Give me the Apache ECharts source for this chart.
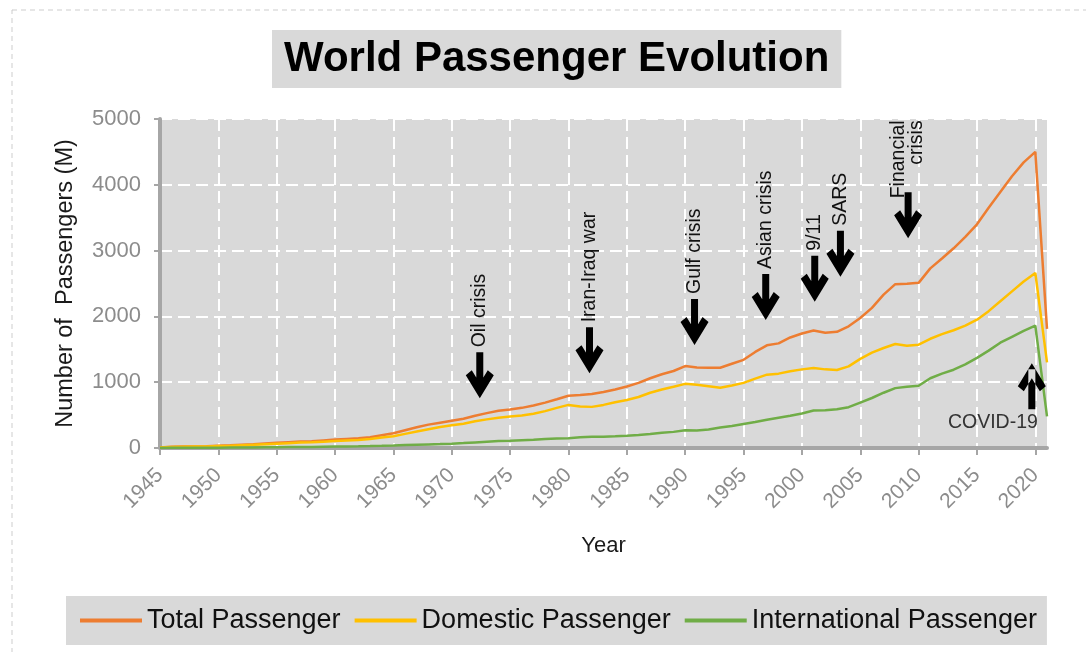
<!DOCTYPE html>
<html>
<head>
<meta charset="utf-8">
<script src="https://cdn.jsdelivr.net/npm/echarts@6/dist/echarts.min.js"></script>
<style>
html,body{margin:0;padding:0;background:#fff;}
#c{width:1086px;height:652px;}
</style>
</head>
<body>
<div id="c"></div>
<script>
// ---- data ----
const years = [1945,1946,1947,1948,1949,1950,1951,1952,1953,1954,1955,1956,1957,1958,1959,
  1960,1961,1962,1963,1964,1965,1966,1967,1968,1969,1970,1971,1972,1973,1974,1975,1976,1977,1978,1979,
  1980,1981,1982,1983,1984,1985,1986,1987,1988,1989,1990,1991,1992,1993,1994,1995,1996,1997,1998,1999,
  2000,2001,2002,2003,2004,2005,2006,2007,2008,2009,2010,2011,2012,2013,2014,2015,2016,2017,2018,2019,
  2020,2021];
const totalPassengers = [9,18,21,24,27,35,42,50,58,68,78,88,97,102,115,
  128,138,148,165,195,225,270,315,355,385,415,445,490,530,565,585,610,645,690,740,
  795,805,820,850,890,935,990,1060,1120,1170,1245,1225,1220,1220,1280,1340,1460,1560,1590,1680,
  1740,1785,1752,1765,1850,1975,2130,2330,2490,2495,2510,2730,2880,3035,3210,3400,3650,3890,4130,4340,
  4500,1810];
const domesticPassengers = [8,15,18,21,24,30,36,43,50,58,66,74,82,86,96,
  106,114,122,136,158,180,215,250,285,320,345,370,405,435,460,478,495,520,560,610,
  655,630,625,655,695,730,775,840,890,930,975,960,940,915,950,990,1055,1115,1130,1165,
  1195,1215,1195,1185,1240,1355,1450,1520,1580,1555,1570,1660,1730,1790,1860,1950,2080,2230,2380,2530,
  2660,1300];
const internationalPassengers = [1,3,3,3,3,5,6,7,8,10,12,14,15,16,19,
  22,24,26,29,33,38,44,50,55,60,66,75,85,95,105,110,118,125,135,143,
  150,163,170,172,178,185,198,212,230,245,270,265,280,310,335,365,395,430,460,490,
  525,570,575,590,620,690,760,840,910,930,945,1060,1130,1190,1270,1370,1480,1600,1690,1780,
  1860,480];
const seriesNames = ['Total Passenger','Domestic Passenger','International Passenger'];
const eventNames = ['Oil crisis','Iran-Iraq war','Gulf crisis','Asian crisis','9/11','SARS','Financial\ncrisis','COVID-19'];
const eventYears = [1972.4,1981.8,1990.8,1996.9,2001.1,2003.3,2009.1,2019.7];
const eventLevels = [755,1135,1565,1945,2223,2603,3187,1287];

// ---- styling ----
const FONT = "'Liberation Sans', Arial, sans-serif";
const colors = ['#ED7D31','#FFC000','#70AD47'];
const arrowDown = 'path://M10.5 0L17.5 0L17.5 40L10.5 40Z M0 23L6 18L14 31L22 18L28 23L14 46Z';
const arrowUp = 'path://M10.5 6L17.5 6L17.5 46L10.5 46Z M0 23L6 28L14 15L22 28L28 23L14 0Z';

function pairs(vals){ return years.map((y,i)=>[y, vals[i]]); }

const markData = eventNames.map((n,i)=>{
  const up = n === 'COVID-19';
  const multi = n.indexOf('\n') >= 0;
  const label = up ? {
      show:true, formatter:'{b}', position:'bottom', distance:5,
      align:'right', verticalAlign:'top', offset:[6,-2],
      fontSize:19.5, color:'#333', fontFamily:FONT
    } : {
      show:true, formatter:'{b}', position:'top', distance: multi ? 72 : 5,
      rotate:90, align: multi ? 'right' : 'left', verticalAlign:'middle',
      lineHeight:18, fontSize:19.5, color:'#111', fontFamily:FONT
    };
  return {
    name:n, coord:[eventYears[i], eventLevels[i]],
    symbol: up ? arrowUp : arrowDown, symbolSize:[28,46],
    symbolOffset:[0, up ? '50%' : '-50%'],
    itemStyle:{color:'#000'}, label: label
  };
});

const axisGray = '#a6a6a6';
const labelGray = '#8c8c8c';

const option = {
  animation:false,
  backgroundColor:'#fff',
  textStyle:{fontFamily:FONT},
  graphic:[{
    type:'rect', silent:true, z:-10,
    shape:{x:12, y:10, width:1200, height:800},
    style:{fill:'none', stroke:'#cdcdcd', lineWidth:1, lineDash:[5,4]}
  }],
  title:{
    text:'World Passenger Evolution', left:272, top:30, padding:[8,12],
    backgroundColor:'#d9d9d9',
    textStyle:{fontFamily:FONT, fontSize:42, fontWeight:'bold', color:'#000', lineHeight:42}
  },
  legend:{
    data:seriesNames, left:66, top:596, padding:[11,10,11,14], itemGap:14,
    itemWidth:62, itemHeight:4, icon:'rect', backgroundColor:'#d9d9d9',
    textStyle:{fontFamily:FONT, fontSize:27, color:'#111'}
  },
  grid:{left:160, right:39, top:119, bottom:204, show:true, backgroundColor:'#d9d9d9', borderWidth:0},
  xAxis:{
    type:'value', min:1945, max:2021, interval:5,
    name:'Year', nameLocation:'middle', nameGap:87,
    nameTextStyle:{fontSize:22, color:'#1a1a1a', fontFamily:FONT},
    axisLine:{show:true, onZero:false, lineStyle:{color:axisGray, width:4}},
    axisTick:{show:true, length:7, lineStyle:{color:axisGray, width:2}},
    axisLabel:{rotate:45, margin:24, fontSize:21, color:labelGray, showMaxLabel:false, formatter:v=>String(v)},
    splitLine:{show:true, showMinLine:false, showMaxLine:false, lineStyle:{color:'#ffffff', width:2, type:[12,6]}}
  },
  yAxis:{
    type:'value', min:0, max:5000, interval:1000,
    name:'Number of  Passengers (M)', nameLocation:'middle', nameGap:82,
    nameTextStyle:{fontSize:23.5, color:'#1a1a1a', fontFamily:FONT},
    axisLine:{show:true, lineStyle:{color:axisGray, width:4}},
    axisTick:{show:true, length:6, lineStyle:{color:axisGray, width:2}},
    axisLabel:{margin:19, fontSize:22, color:labelGray, formatter:v=>String(v)},
    splitLine:{show:true, lineStyle:{color:'#ffffff', width:2, type:[12,6]}}
  },
  series:[
    {name:seriesNames[0], type:'line', data:pairs(totalPassengers), symbol:'none',
     lineStyle:{width:2.5, color:colors[0]}, itemStyle:{color:colors[0]},
     markPoint:{data:markData, z:10}},
    {name:seriesNames[1], type:'line', data:pairs(domesticPassengers), symbol:'none',
     lineStyle:{width:2.5, color:colors[1]}, itemStyle:{color:colors[1]}},
    {name:seriesNames[2], type:'line', data:pairs(internationalPassengers), symbol:'none',
     lineStyle:{width:2.5, color:colors[2]}, itemStyle:{color:colors[2]}}
  ]
};
const chart = echarts.init(document.getElementById('c'));
chart.setOption(option);
</script>
</body>
</html>
